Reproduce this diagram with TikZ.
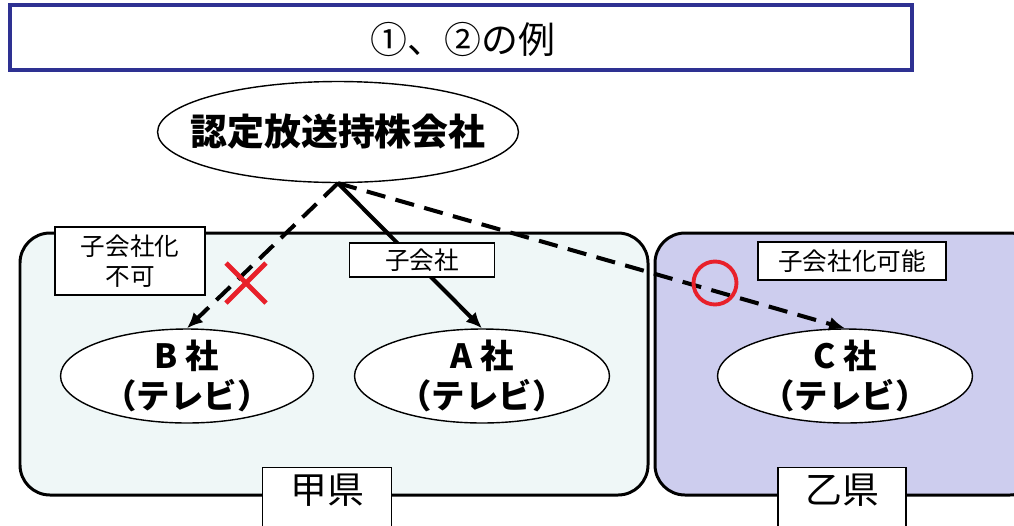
\documentclass[tikz,border=0pt]{standalone}
\usepackage{fontspec}
\setmainfont{Noto Sans CJK JP}
\usetikzlibrary{arrows.meta,shapes.geometric}

\definecolor{titleblue}{HTML}{2E3192}
\definecolor{kofill}{HTML}{EFF7F7}
\definecolor{otsufill}{HTML}{CDCDEE}
\definecolor{markred}{HTML}{E8202A}

\tikzset{
	company/.style={draw, ellipse, fill=white, line width=0.8pt, font=\fontsize{19}{23}\selectfont\bfseries, align=center, inner sep=-0.15cm},
	labelbox/.style={draw, fill=white, line width=1.1pt, inner sep=0pt, align=center},
	region/.style={draw, line width=1.7pt, rounded corners=0.6cm},
	link/.style={line width=2.3pt, -{Latex[length=9pt,width=8pt]}},
	maybe/.style={link, dash pattern=on 11pt off 6pt}
}

\begin{document}
\begin{tikzpicture}[x=0.02cm,y=-0.02cm]
				\useasboundingbox (0,0) rectangle (1014,525);
				\fill[white] (0,0) rectangle (1014,525);
				
				% title
				\draw[titleblue, line width=2.3pt] (10,5) rectangle (912,70);
				\path (463,39) node (title) {\fontsize{21}{25}\selectfont ①、②の例};
				
				% prefectures
				\draw[region, fill=kofill] (20,233) rectangle (648,495);
				\draw[region, fill=otsufill] (655,233) rectangle (1040,495);
				\path (327,500) node[labelbox, minimum width=2.58cm, minimum height=1.3cm, text depth=0.45cm] (ko) {\fontsize{21}{25}\selectfont 甲県};
				\path (842,500) node[labelbox, minimum width=2.56cm, minimum height=1.3cm, text depth=0.45cm] (otsu) {\fontsize{21}{25}\selectfont 乙県};
				
				% companies
				\path (338,132) node[company, inner xsep=-0.4cm, inner ysep=0pt, minimum width=7.1cm, minimum height=2.02cm, font=\fontsize{21}{25}\selectfont\bfseries] (hold) {認定放送持株会社};
				\path (187,376) node[company, minimum width=5.06cm, minimum height=1.88cm] (b) {B 社\\（テレビ）};
				\path (482,376) node[company, minimum width=5.1cm, minimum height=1.88cm] (a) {A 社\\（テレビ）};
				\path (845,376) node[company, minimum width=5.1cm, minimum height=1.88cm] (c) {C 社\\（テレビ）};
				
				% links
				\draw[maybe] (hold.south) -- (b.north);
				\draw[link] (hold.south) -- (a.north);
				\draw[maybe] (hold.south) -- (c.north);
				
				% notes
				\path (130,261) node[labelbox, minimum width=3cm, minimum height=1.36cm, font=\fontsize{14}{17}\selectfont] (ng) {子会社化\\不可};
				\path (422,260) node[labelbox, minimum width=2.9cm, minimum height=0.68cm, font=\fontsize{14}{17}\selectfont] (sub) {子会社};
				\path (852,261) node[labelbox, minimum width=3.76cm, minimum height=0.76cm, font=\fontsize{14}{17}\selectfont] (ok) {子会社化可能};
				
				% marks
				\draw[markred, line width=2.8pt] (226,263) -- (266,303);
				\draw[markred, line width=2.8pt] (266,263) -- (226,303);
				\draw[markred, line width=2.2pt] (715,283) circle (0.43cm);
\end{tikzpicture}
\end{document}
